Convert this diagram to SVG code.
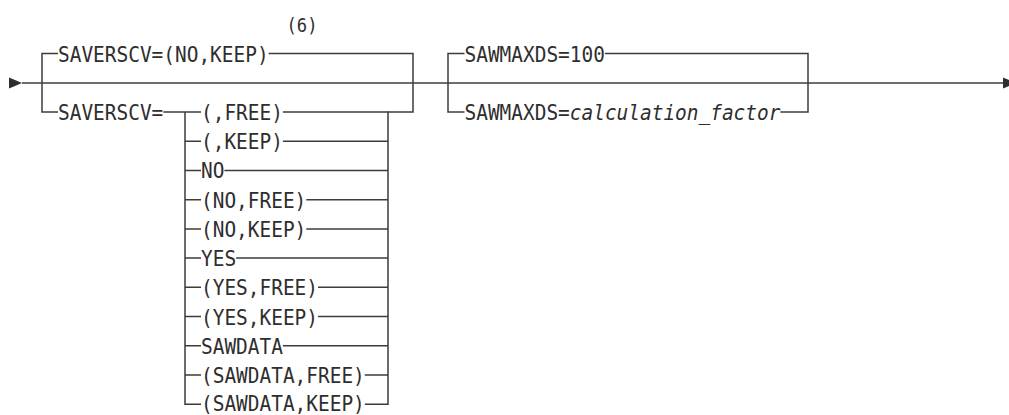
<svg xmlns="http://www.w3.org/2000/svg" width="1009" height="415" viewBox="0 0 1009 415">
<style>
  .c { fill: none; stroke: #3c3c3c; stroke-width: 1.5; }
  .t { font-family: "DejaVu Sans Mono", "Liberation Mono", monospace; font-size: 22px; fill: #2e2e2e; }
  .n { font-family: "DejaVu Sans Mono", "Liberation Mono", monospace; font-size: 19px; fill: #2e2e2e; }
  .i { font-style: italic; }
</style>
<defs>
  <marker id="arrowStart" markerUnits="userSpaceOnUse" markerWidth="15" markerHeight="13" refX="13" refY="6" orient="auto">
    <path d="M0,0.5 L13,6 L0,11.5 Z" fill="#2e2e2e"/>
  </marker>
  <marker id="arrowEnd" markerUnits="userSpaceOnUse" markerWidth="15" markerHeight="13" refX="0" refY="6" orient="auto">
    <path d="M0,0.5 L13,6 L0,11.5 Z" fill="#2e2e2e"/>
  </marker>
</defs>
<rect width="1009" height="415" fill="#ffffff"/>

<g id="connectors">
  <path class="c" d="M22,83 H1003" marker-start="url(#arrowStart)" marker-end="url(#arrowEnd)"/>
  <!-- block 1 outer -->
  <path class="c" d="M58,53.5 H42 V112 H58"/>
  <path class="c" d="M268.6,53.5 H413 V112 H388"/>
  <path class="c" d="M163.3,112 H201"/>
  <!-- block 1 inner -->
  <path class="c" d="M185,112 V404.2 H201"/>
  <path class="c" d="M282.9,112 H388 V404.2 H364.8"/>
  <path class="c" d="M185,141.2 H201 M282.9,141.2 H388"/>
  <path class="c" d="M185,170.4 H201 M224.4,170.4 H388"/>
  <path class="c" d="M185,199.7 H201 M306.3,199.7 H388"/>
  <path class="c" d="M185,228.9 H201 M306.3,228.9 H388"/>
  <path class="c" d="M185,258.1 H201 M236.1,258.1 H388"/>
  <path class="c" d="M185,287.3 H201 M318,287.3 H388"/>
  <path class="c" d="M185,316.5 H201 M318,316.5 H388"/>
  <path class="c" d="M185,345.8 H201 M282.9,345.8 H388"/>
  <path class="c" d="M185,375 H201 M364.8,375 H388"/>
  <!-- block 2 -->
  <path class="c" d="M464.5,53.5 H448 V112 H464.5"/>
  <path class="c" d="M604.9,53.5 H808 V112 H780.4"/>
</g>

<g id="note-6"><text class="n" x="286.5" y="31.5" textLength="31" lengthAdjust="spacingAndGlyphs">(6)</text></g>
<g id="n-saverscv-nokeep"><text class="t" x="58" y="61.5" textLength="210.6" lengthAdjust="spacingAndGlyphs">SAVERSCV=(NO,KEEP)</text></g>
<g id="n-saverscv"><text class="t" x="58" y="120" textLength="105.3" lengthAdjust="spacingAndGlyphs">SAVERSCV=</text></g>
<g id="n-free"><text class="t" x="201" y="120" textLength="81.9" lengthAdjust="spacingAndGlyphs">(,FREE)</text></g>
<g id="n-keep"><text class="t" x="201" y="149.2" textLength="81.9" lengthAdjust="spacingAndGlyphs">(,KEEP)</text></g>
<g id="n-no"><text class="t" x="201" y="178.4" textLength="23.4" lengthAdjust="spacingAndGlyphs">NO</text></g>
<g id="n-no-free"><text class="t" x="201" y="207.7" textLength="105.3" lengthAdjust="spacingAndGlyphs">(NO,FREE)</text></g>
<g id="n-no-keep"><text class="t" x="201" y="236.9" textLength="105.3" lengthAdjust="spacingAndGlyphs">(NO,KEEP)</text></g>
<g id="n-yes"><text class="t" x="201" y="266.1" textLength="35.1" lengthAdjust="spacingAndGlyphs">YES</text></g>
<g id="n-yes-free"><text class="t" x="201" y="295.3" textLength="117" lengthAdjust="spacingAndGlyphs">(YES,FREE)</text></g>
<g id="n-yes-keep"><text class="t" x="201" y="324.5" textLength="117" lengthAdjust="spacingAndGlyphs">(YES,KEEP)</text></g>
<g id="n-sawdata"><text class="t" x="201" y="353.8" textLength="81.9" lengthAdjust="spacingAndGlyphs">SAWDATA</text></g>
<g id="n-sawdata-free"><text class="t" x="201" y="383" textLength="163.8" lengthAdjust="spacingAndGlyphs">(SAWDATA,FREE)</text></g>
<g id="n-sawdata-keep"><text class="t" x="201" y="410.8" textLength="163.8" lengthAdjust="spacingAndGlyphs">(SAWDATA,KEEP)</text></g>
<g id="n-sawmaxds-100"><text class="t" x="464.5" y="61.5" textLength="140.4" lengthAdjust="spacingAndGlyphs">SAWMAXDS=100</text></g>
<g id="n-sawmaxds-calc"><text class="t" x="464.5" y="120" textLength="315.9" lengthAdjust="spacingAndGlyphs">SAWMAXDS=<tspan class="i">calculation_factor</tspan></text></g>
</svg>
